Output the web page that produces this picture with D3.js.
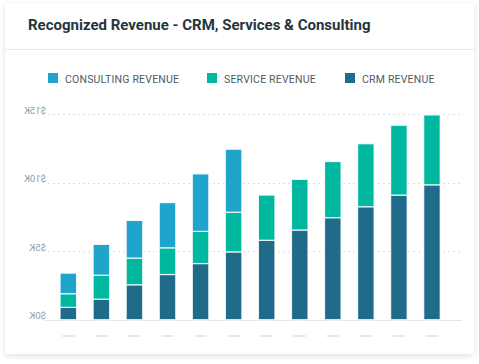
<!DOCTYPE html>
<html><head><meta charset="utf-8">
<script src="https://cdn.jsdelivr.net/npm/d3@7/dist/d3.min.js"></script>
<style>
html,body{margin:0;padding:0;background:#fff;}
svg{display:block;font-family:Roboto, "Noto Sans", sans-serif;}
</style></head>
<body><svg id="c" width="479" height="364"></svg>
<script>
const categories = ["P1","P2","P3","P4","P5","P6","P7","P8","P9","P10","P11","P12"];
const crmRevenue = [0.9,1.5,2.55,3.3,4.1,4.95,5.8,6.55,7.45,8.25,9.1,9.85];
const serviceRevenue = [1.0,1.75,1.95,1.95,2.35,2.9,3.3,3.7,4.1,4.6,5.1,5.1];
const consultingRevenue = [1.5,2.25,2.75,3.3,4.2,4.6,0,0,0,0,0,0];
const yTicks = [0,5,10,15];
const yTickLabels = ["$0K","$5K","$10K","$15K"];
const seriesNames = ["CONSULTING REVENUE","SERVICE REVENUE","CRM REVENUE"];
const seriesColors = ["#1fa5cc","#00b8a0","#206b89"];

const svg = d3.select("#c");
const defs = svg.append("defs");
const f = defs.append("filter").attr("id","sh").attr("x","-5%").attr("y","-5%").attr("width","110%").attr("height","115%");
f.append("feDropShadow").attr("dx",0).attr("dy",2).attr("stdDeviation",3).attr("flood-color","#000").attr("flood-opacity",0.12);

svg.append("rect").attr("x",5).attr("y",3).attr("width",469).attr("height",351).attr("rx",4)
  .attr("fill","#fff").attr("filter","url(#sh)");
svg.append("text").attr("x",28).attr("y",30).text("Recognized Revenue - CRM, Services & Consulting")
  .attr("font-size",15).attr("font-weight",700).attr("fill","#26343d");
svg.append("line").attr("x1",5).attr("x2",474).attr("y1",49.5).attr("y2",49.5).attr("stroke","#e6e9eb");

// legend
const legX = [48,207,345];
seriesNames.forEach((n,i)=>{
  svg.append("rect").attr("x",legX[i]).attr("y",73).attr("width",10).attr("height",10).attr("fill",seriesColors[i]);
  svg.append("text").attr("x",legX[i]+17).attr("y",83).text(n).attr("font-size",10.5)
    .attr("letter-spacing",0.2).attr("fill","#4f5a62");
});

const x = d3.scaleBand().domain(categories).range([51.8,448.5]).paddingInner(0.5).paddingOuter(0.25);
const y = d3.scaleLinear().domain([0,15]).range([319.7,114.3]);

// gridlines
svg.append("g").selectAll("line").data(yTicks.filter(t=>t>0)).join("line")
  .attr("x1",48).attr("x2",460).attr("y1",d=>Math.round(y(d))+0.5).attr("y2",d=>Math.round(y(d))+0.5)
  .attr("stroke","#dcdfe2").attr("stroke-dasharray","2,3");
svg.append("line").attr("x1",45).attr("x2",462).attr("y1",320.5).attr("y2",320.5).attr("stroke","#e3e6e8");

// mirrored y labels
svg.append("g").selectAll("text").data(yTicks).join("text")
  .attr("transform",d=>`translate(46,${y(d)-0.5}) scale(-1,1)`)
  .attr("text-anchor","start").attr("font-size",9.5).attr("fill","#939ca2")
  .text((d,i)=>yTickLabels[i]);

// stacked bars
const data = categories.map((c,i)=>({cat:c, crm:crmRevenue[i], service:serviceRevenue[i], consulting:consultingRevenue[i]}));
const stack = d3.stack().keys(["crm","service","consulting"]);
const layers = stack(data);
const colorByKey = {crm:seriesColors[2], service:seriesColors[1], consulting:seriesColors[0]};
svg.append("g").selectAll("g").data(layers).join("g").attr("fill",d=>colorByKey[d.key])
  .selectAll("rect").data(d=>d.filter(p=>p[1]-p[0]>0)).join("rect")
  .attr("x",d=>x(d.data.cat)).attr("width",x.bandwidth())
  .attr("y",d=>y(d[1])).attr("height",d=>y(d[0])-y(d[1]))
  .attr("stroke","#fff").attr("stroke-width",1.2).attr("stroke-opacity",0.85);

// placeholder x labels (dashes)
svg.append("g").selectAll("rect").data(categories).join("rect")
  .attr("x",d=>x(d)+x.bandwidth()/2-6).attr("y",335).attr("width",12).attr("height",2)
  .attr("fill","#e6e8ea");
</script></body></html>
